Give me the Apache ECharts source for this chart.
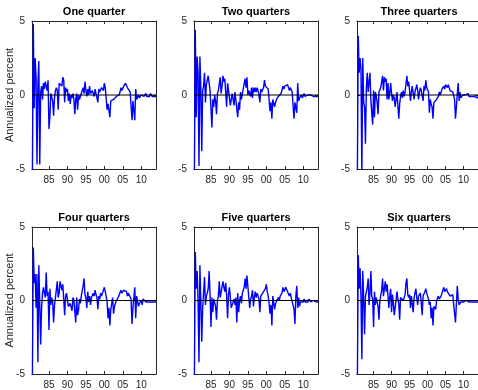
<!DOCTYPE html>
<html>
<head>
<meta charset="utf-8">
<script src="https://cdn.jsdelivr.net/npm/echarts@6/dist/echarts.min.js"></script>
<style>
  html, body { margin: 0; padding: 0; background: #fff; }
  #chart { width: 478px; height: 390px; }
</style>
</head>
<body>
<div id="chart"></div>
<script>
// quarterly dates, 1980Q3 .. 2014Q1
var quarters = []
for (var i = 0; i < 135; i++) quarters.push(1980.5 + i * 0.25)

var titles = ['One quarter', 'Two quarters', 'Three quarters', 'Four quarters', 'Five quarters', 'Six quarters']
var yTicks = [-5, 0, 5]
var xTicks = [1985, 1990, 1995, 2000, 2005, 2010]

// one row per year (1980 has two quarters, 2014 one)
var oneQ = [
  -5.6, 4.8,
  -0.9, 2.5, 1.2, -4.7,
  0.8, 2.3, -4.7, 0.2,
  0.6, -0.3, 0.8, 0.4,
  0.9, 1.0, 0.3, 1.0,
  -2.3, -1.5, 0.1, 0.0,
  -0.4, -1.4, -0.2, 0.3,
  0.5, 0.3, -1.0, 0.8,
  0.8, 0.9, 0.6, 1.2,
  1.0, -0.5, 0.5, 0.2,
  0.4, -0.4, 0.1, -0.6,
  0.0, -0.2, 0.1, -0.3,
  -1.3, -0.3, 0.1, -1.0,
  0.0, -0.3, -0.1, 0.1,
  0.2, 0.5, 0.1, 0.9,
  0.3, -0.1, 0.4, 0.0,
  0.6, 0.1, 0.0, 0.3,
  0.3, -0.1, 0.4, 0.1,
  0.2, -0.5, 0.4, 0.2,
  0.3, 0.5, 0.6, 0.3,
  0.8, 0.5, 0.4, -1.0,
  -0.6, -0.5, -1.5, -0.4,
  -0.4, -0.5, -0.3, -0.2,
  -0.3, -0.1, -0.2, 0.0,
  0.0, 0.2, 0.5, 0.3,
  0.4, 0.6, 0.5, 0.8,
  0.8, 0.5, 0.6, 0.4,
  0.2, 0.3, -1.7, -0.4,
  -0.3, -1.7, 0.4, -0.3,
  -0.2, 0.0, -0.2, -0.1,
  0.0, -0.1, 0.1, -0.1,
  0.0, 0.1, -0.1, 0.0,
  0.0, -0.1, 0.1, 0.0,
  -0.1, 0.0, -0.1, -0.1,
  -0.1
]
var twoQ = [
  -5.6, 4.4,
  -1.5, 2.6, 1.5, -4.8,
  2.6, 0.5, -3.8, 0.3,
  0.6, 1.5, -0.5, 0.7,
  0.7, 1.3, 0.8, 0.3,
  0.2, -2.2, -0.3, -0.8,
  0.0, -0.4, -1.3, 0.1,
  0.3, 0.4, 1.2, 0.1,
  0.6, 1.3, 0.9, 1.1,
  1.2, -0.8, 0.8, 0.3,
  0.3, -0.7, -0.3, 0.1,
  0.1, -0.7, 0.2, 0.2,
  0.2, -1.5, -0.5, -1.0,
  0.2, -0.3, 0.1, 0.2,
  0.2, 1.1, 0.5, 1.2,
  0.0, 0.3, 0.1, -0.1,
  0.5, -0.2, 0.5, 0.2,
  0.5, 0.2, 0.5, 0.3,
  0.0, -0.5, 0.4, 0.2,
  0.3, 0.5, 1.0, 0.6,
  0.6, 0.6, 0.4, 0.3,
  -1.1, -0.5, -1.6, -0.3,
  -0.3, -0.8, -0.5, -0.3,
  -0.2, -0.1, 0.0, 0.0,
  0.1, 0.2, 0.6, 0.4,
  0.6, 0.7, 0.5, 0.7,
  0.7, 0.3, 0.5, 0.4,
  0.2, 0.3, -1.6, -0.5,
  -0.5, -1.2, 0.8, -0.4,
  -0.2, -0.3, 0.0, -0.2,
  -0.1, 0.1, -0.1, 0.0,
  -0.1, 0.0, 0.1, -0.1,
  0.0, 0.1, 0.0, -0.1,
  0.0, -0.1, -0.1, -0.1,
  -0.1
]
var threeQ = [
  -5.6, 4.0,
  1.5, 2.5, 1.8, -5.5,
  2.5, -0.5, -0.8, -3.3,
  0.5, 1.5, 0.2, 0.3,
  1.5, -0.4, -0.3, -2.0,
  0.3, -1.5, 0.2, -0.1,
  -0.5, -1.3, 0.2, 0.3,
  0.5, 0.6, 1.3, 0.3,
  1.2, 0.9, 1.1, -0.3,
  0.8, -0.3, 0.1, 0.8,
  0.1, -0.4, 0.0, -0.2,
  -0.8, -0.3, 0.2, 0.1,
  -1.6, -0.6, -0.1, 0.2,
  -0.2, 0.3, -0.1, 0.2,
  0.2, 1.3, 0.6, 0.9,
  0.3, -0.4, 0.2, 0.6,
  0.6, -0.3, 0.2, 0.1,
  0.7, 0.3, -0.3, 0.2,
  0.5, 0.3, 0.2, -0.4,
  0.6, 0.3, 1.0, 0.5,
  0.4, 0.2, -1.2, -0.3,
  -0.6, -0.8, -1.6, -0.5,
  -0.4, -0.6, -0.3, -0.2,
  -0.1, 0.2, 0.0, 0.1,
  0.4, 0.3, 0.6, 0.4,
  0.7, 0.6, 0.5, 0.7,
  0.7, 0.3, 0.4, 0.2,
  0.2, 0.2, -0.3, -1.6,
  -0.8, 0.1, 0.8, -0.4,
  0.2, -0.2, -0.1, 0.0,
  -0.1, 0.1, 0.0, -0.1,
  0.0, 0.1, -0.1, 0.0,
  0.0, -0.1, 0.0, -0.1,
  -0.1, -0.1, -0.1, -0.2,
  -0.1
]
var fourQ = [
  -5.6, 3.6,
  1.2, 1.8, -0.5, 1.8,
  -4.2, 2.4, -0.2, -3.0,
  -0.5, 0.5, 0.9, 0.5,
  0.2, 1.9, 0.3, 0.6,
  -2.0, 0.8, -0.3, 0.2,
  -0.1, -1.5, -0.3, 0.2,
  0.2, 1.3, 0.2, 0.5,
  1.3, 1.4, 0.7, 1.1,
  1.2, -1.0, 0.3, 0.5,
  0.6, -0.4, -0.5, -0.2,
  -0.2, -0.7, 0.2, 0.0,
  0.0, -1.5, 0.2, -1.0,
  -0.7, 0.1, -0.2, 0.3,
  0.4, 1.0, 1.5, 0.4,
  0.2, -0.5, 0.6, -0.1,
  0.3, -0.3, 0.2, 0.3,
  0.5, 0.3, 0.7, 0.4,
  0.2, -0.6, 0.3, 0.1,
  0.5, 0.3, 0.5, 0.6,
  0.9, 0.6, 0.3, -0.1,
  -1.2, -0.5, -1.7, -0.6,
  -0.2, 0.2, -0.9, -0.4,
  -0.3, 0.0, -0.1, 0.2,
  0.3, 0.2, 0.7, 0.5,
  0.6, 0.7, 0.7, 0.6,
  0.6, 0.3, 0.5, 0.4,
  0.4, 0.1, -1.6, -0.5,
  -0.5, 0.9, -1.2, 0.3,
  0.3, -0.4, -0.2, -0.1,
  0.0, -0.3, 0.1, 0.0,
  0.1, -0.1, 0.0, -0.1,
  -0.1, 0.0, -0.1, -0.1,
  -0.1, -0.1, -0.1, -0.1,
  -0.1
]
var fiveQ = [
  -5.6, 3.3,
  0.8, 2.0, 0.0, -4.2,
  2.4, 0.0, -2.8, -0.5,
  -0.5, 1.6, -0.3, 0.3,
  0.5, 0.8, 2.0, 0.4,
  -1.8, 0.2, -0.8, 0.1,
  0.1, -0.4, -1.3, 0.0,
  0.3, 1.3, 0.2, 0.2,
  0.2, 1.3, 0.9, 0.6,
  1.2, 0.3, -1.2, 0.4,
  0.9, 0.2, -0.5, -0.3,
  -0.3, 0.1, -0.3, 0.2,
  -1.5, 0.5, -0.8, 0.0,
  0.3, -0.2, 0.5, 0.4,
  0.9, 1.5, 0.8, 1.7,
  1.7, 0.2, -0.5, 0.1,
  0.3, 0.7, -0.4, 0.2,
  0.6, 0.2, 0.5, 0.3,
  0.1, -0.8, 0.3, 0.2,
  0.5, 0.4, 0.6, 0.8,
  1.1, 0.6, 0.3, -0.2,
  -0.9, -0.3, -1.7, 0.3,
  0.3, -0.6, -0.2, -0.3,
  -0.1, 0.2, 0.0, 0.3,
  0.3, 0.5, 0.9, 0.6,
  0.7, 0.9, 0.8, 0.6,
  0.6, 0.3, 0.5, 0.2,
  0.2, 0.2, -0.6, -1.6,
  0.3, 1.0, -0.5, 0.2,
  -0.4, -0.1, -0.2, 0.0,
  -0.1, 0.1, -0.1, 0.0,
  0.0, -0.1, 0.1, 0.0,
  -0.1, 0.0, -0.1, 0.0,
  -0.1, 0.0, -0.1, -0.1,
  -0.1
]
var sixQ = [
  -5.6, 3.1,
  0.8, 2.2, 0.3, -4.0,
  2.0, 0.2, -2.3, 0.3,
  0.3, 0.9, 1.5, -0.3,
  0.5, 2.0, 0.3, 0.1,
  -1.8, 0.6, -0.3, 0.2,
  0.2, -0.4, -1.3, 0.0,
  0.0, 0.7, 1.5, 0.3,
  0.8, 1.3, 0.6, 1.1,
  1.1, -0.5, 0.3, 0.8,
  -0.8, 0.4, -0.2, -1.0,
  -0.5, -0.5, 0.6, 0.1,
  -0.2, -1.3, 0.2, 0.3,
  0.3, 0.0, 0.1, 0.4,
  1.2, 1.5, 0.4, 0.2,
  0.4, -0.5, 0.3, 0.3,
  -0.8, 0.2, 0.2, 0.8,
  0.2, -0.3, 0.3, 0.2,
  0.5, -0.2, -1.0, 0.3,
  0.3, 0.6, 0.8, 0.5,
  0.3, 0.1, -0.3, -0.1,
  -1.2, -0.5, -1.7, -0.4,
  -0.4, -0.6, 0.0, -0.1,
  0.3, 0.1, 0.1, 0.3,
  0.5, 0.5, 0.9, 0.6,
  0.7, 0.8, 0.6, 0.5,
  0.5, 0.3, 0.3, 0.4,
  0.4, -0.3, -0.4, -1.5,
  -0.2, 1.0, 0.1, -0.3,
  -0.4, -0.1, -0.2, 0.0,
  -0.1, 0.0, -0.2, 0.0,
  -0.1, 0.0, -0.1, -0.1,
  0.0, -0.1, -0.1, 0.0,
  -0.1, -0.1, -0.1, -0.1,
  -0.1
]
var allSeries = [oneQ, twoQ, threeQ, fourQ, fiveQ, sixQ]

var xMin = 1980.4
var xMax = 2014
var font = '"Liberation Sans", Arial, Helvetica, sans-serif'
var axisColor = '#262626'

// grid boxes, px
var lefts = [32, 194, 357]
var tops = [21, 227]
var boxW = 124
var boxH = 148

var myChart = echarts.init(document.getElementById('chart'))

var grid = [], xAxis = [], yAxis = [], series = [], title = []
allSeries.forEach(function (vals, k) {
  var col = k % 3
  var row = Math.floor(k / 3)
  grid.push({ left: lefts[col], top: tops[row], width: boxW, height: boxH })
  title.push({
    text: titles[k],
    left: lefts[col] + boxW / 2,
    top: tops[row] - 15,
    textAlign: 'center',
    padding: 0,
    textStyle: { fontFamily: font, fontSize: 11, fontWeight: 'bold', color: '#000' },
  })
  var line = { show: true, onZero: false, lineStyle: { color: axisColor, width: 1 } }
  // bottom + top x axes (box with ticks on both sides)
  ;['bottom', 'top'].forEach(function (pos) {
    xAxis.push({
      gridIndex: k,
      type: 'value',
      position: pos,
      min: xMin,
      max: xMax,
      axisLine: line,
      axisTick: { show: true, inside: true, length: 3, customValues: xTicks, lineStyle: { color: axisColor } },
      axisLabel: {
        show: pos === 'bottom',
        customValues: xTicks,
        margin: 6,
        fontFamily: font,
        fontSize: 10,
        color: axisColor,
        formatter: function (v) { return String(Math.round(v)).slice(2) },
      },
      splitLine: { show: false },
    })
  })
  ;['left', 'right'].forEach(function (pos) {
    yAxis.push({
      gridIndex: k,
      type: 'value',
      position: pos,
      min: -5,
      max: 5,
      interval: 5,
      name: pos === 'left' && col === 0 ? 'Annualized percent' : '',
      nameLocation: 'middle',
      nameGap: 17,
      nameMoveOverlap: false,
      nameTextStyle: { fontFamily: font, fontSize: 11, color: axisColor },
      axisLine: line,
      axisTick: { show: true, inside: true, length: 3, lineStyle: { color: axisColor } },
      axisLabel: { show: pos === 'left', margin: 7, fontFamily: font, fontSize: 10, color: axisColor },
      splitLine: { show: false },
    })
  })
  series.push({
    type: 'line',
    xAxisIndex: 2 * k,
    yAxisIndex: 2 * k,
    data: quarters.map(function (q, i) { return [q, vals[i]] }),
    symbol: 'none',
    clip: true,
    lineStyle: { color: '#0000ff', width: 1.4 },
    z: 2,
  })
  // zero reference line
  series.push({
    type: 'line',
    xAxisIndex: 2 * k,
    yAxisIndex: 2 * k,
    data: [[xMin, 0], [xMax, 0]],
    symbol: 'none',
    silent: true,
    lineStyle: { color: '#000', width: 1.2 },
    z: 3,
  })
})

myChart.setOption({
  animation: false,
  backgroundColor: '#fff',
  title: title,
  grid: grid,
  xAxis: xAxis,
  yAxis: yAxis,
  series: series,
})
</script>
</body>
</html>
